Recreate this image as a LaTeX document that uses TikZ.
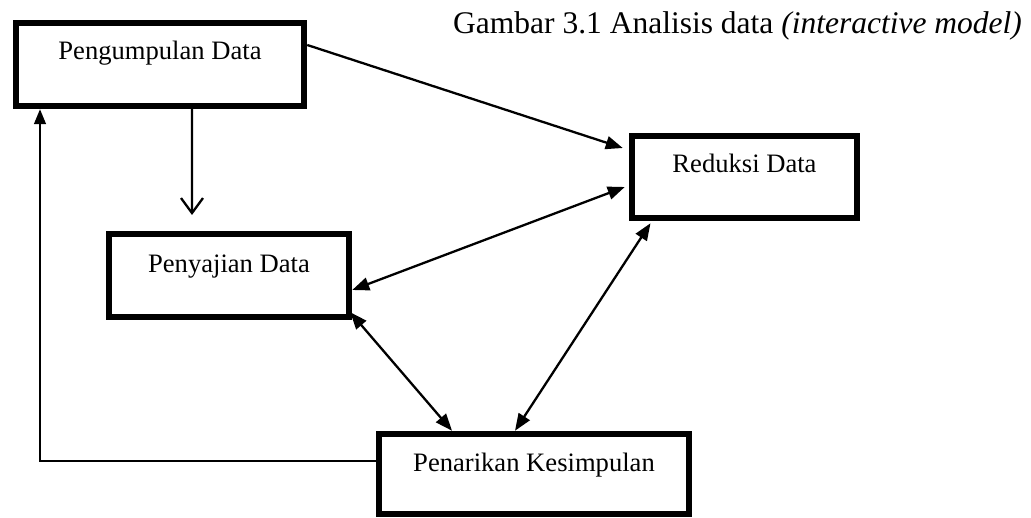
\documentclass[tikz,border=0pt]{standalone}
\usepackage{fontspec}
\setmainfont{Liberation Serif}
\usetikzlibrary{arrows.meta,calc}
\begin{document}
\begin{tikzpicture}[x=1bp,y=-1bp,
  box/.style={draw, line width=6.5bp, rectangle, inner sep=0pt, align=center,
    font=\fontsize{26.6bp}{32bp}\selectfont},
  tipf/.tip={Triangle[length=17bp,width=13bp]},
  conn/.style={line width=2.3bp, -tipf},
  biconn/.style={line width=2.3bp, tipf-tipf},
  openconn/.style={line width=2.3bp, -{Straight Barb[length=15bp,width=22bp]}},
  feedback/.style={line width=1.6bp, -{Triangle[length=15bp,width=12bp]}},
  titlefont/.style={font=\fontsize{31.5bp}{36bp}\selectfont}
]
\useasboundingbox (0,0) rectangle (1031,518);

\node[titlefont, anchor=base east, inner sep=0pt] (title) at (1022,34)
  {Gambar 3.1 Analisis data \textit{(interactive model)}};

\node[box, minimum width=288bp, text height=37bp, text depth=46bp] (p1) at (160,64.5) {Pengumpulan Data};
\node[box, minimum width=225bp, text height=37bp, text depth=45bp] (rd) at (744.5,177) {Reduksi Data};
\node[box, minimum width=240bp, text height=39bp, text depth=44bp] (sy) at (229,275.5) {Penyajian Data};
\node[box, minimum width=310bp, text height=37bp, text depth=43bp] (pk) at (534,474) {Penarikan Kesimpulan};

\coordinate (t2) at (192,215);

\draw[conn] ([yshift=19.5bp]p1.east) -- ([xshift=-6bp,yshift=29bp]rd.west);
\draw[openconn] ([xshift=32bp]p1.south) -- (t2);
\draw[biconn] ([yshift=-14.5bp]sy.east) -- ([xshift=-4bp,yshift=-10bp]rd.west);
\draw[biconn] ([xshift=-2bp,yshift=8bp]sy.south east) -- ([xshift=-82bp]pk.north);
\draw[biconn] ([xshift=-19bp]pk.north) -- ([xshift=-94bp,yshift=-2bp]rd.south);
\draw[feedback] ([yshift=13bp]pk.west) -| ([xshift=-120bp]p1.south);
\end{tikzpicture}
\end{document}
